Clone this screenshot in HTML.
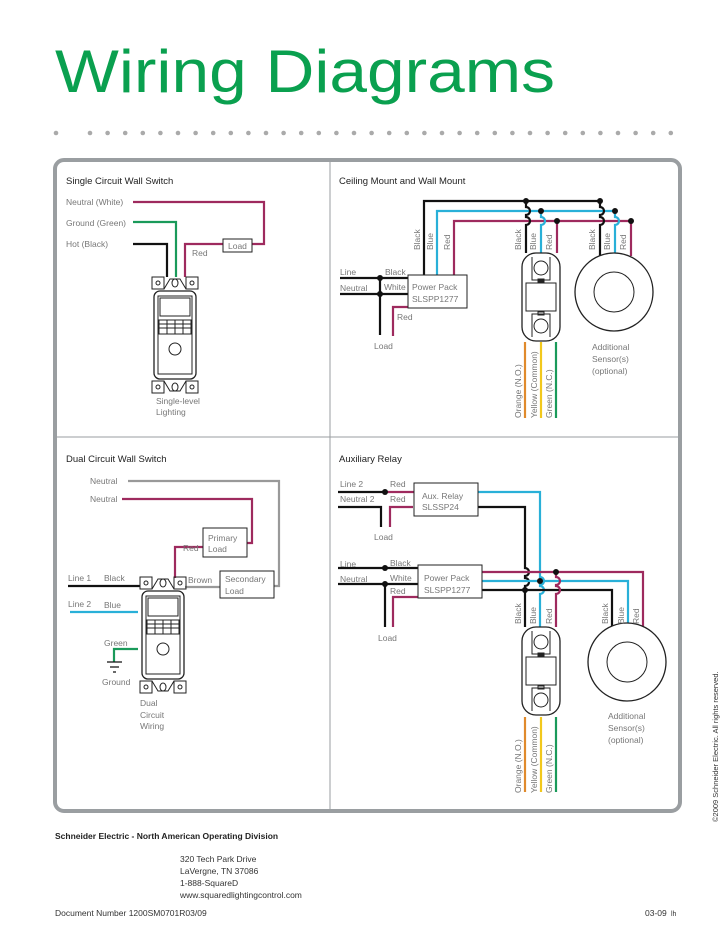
<!DOCTYPE html>
<html><head><meta charset="utf-8"><style>
html,body{margin:0;padding:0;background:#fff}
svg{display:block}
text{font-family:"Liberation Sans",sans-serif;fill:#777;font-size:8.5px}
.h{fill:#222;font-size:9.5px}
</style></head><body>
<svg width="728" height="942" viewBox="0 0 728 942" xmlns="http://www.w3.org/2000/svg">
<defs>
<g id="sw" fill="none" stroke="#222" stroke-width="1">
 <rect x="0" y="0" width="12" height="12"/><circle cx="6" cy="6" r="2"/>
 <rect x="34" y="0" width="12" height="12"/><circle cx="40" cy="6" r="2"/>
 <path d="M12 12 L18 2 H28 L34 12"/><ellipse cx="23" cy="6" rx="3" ry="4"/>
 <rect x="2" y="14" width="42" height="88" rx="6" stroke-width="1.3"/>
 <rect x="6" y="19" width="34" height="78"/>
 <rect x="8" y="21" width="30" height="18"/>
 <rect x="7" y="43" width="32" height="14"/>
 <path d="M7 47H39M7 51H39M15 43V57M23 43V57M31 43V57"/>
 <circle cx="23" cy="72" r="6"/>
 <rect x="0" y="104" width="12" height="12"/><circle cx="6" cy="110" r="2"/>
 <rect x="34" y="104" width="12" height="12"/><circle cx="40" cy="110" r="2"/>
 <path d="M12 104 L18 114 H28 L34 104"/><ellipse cx="23" cy="110" rx="3" ry="4"/>
</g>
<g id="dev" fill="none" stroke="#222" stroke-width="1">
 <rect x="0" y="0" width="38" height="88" rx="14" stroke-width="1.3"/>
 <circle cx="19" cy="15" r="7"/><circle cx="19" cy="73" r="7"/>
 <path d="M10 4V27H28V4M10 84V61H28V84"/>
 <rect x="4" y="30" width="30" height="28"/>
 <rect x="16" y="26" width="6" height="3" fill="#222"/><rect x="16" y="59" width="6" height="3"/>
</g>
</defs>

<text x="55" y="92" textLength="500" lengthAdjust="spacingAndGlyphs" style="fill:#0aa04f;font-size:60px">Wiring Diagrams</text>
<g fill="#aaa">
<circle cx="56" cy="133" r="2.3"/>
<circle cx="90" cy="133" r="2.3"/><circle cx="107.6" cy="133" r="2.3"/><circle cx="125.2" cy="133" r="2.3"/><circle cx="142.8" cy="133" r="2.3"/><circle cx="160.4" cy="133" r="2.3"/><circle cx="178" cy="133" r="2.3"/><circle cx="195.6" cy="133" r="2.3"/><circle cx="213.2" cy="133" r="2.3"/><circle cx="230.8" cy="133" r="2.3"/><circle cx="248.4" cy="133" r="2.3"/><circle cx="266" cy="133" r="2.3"/><circle cx="283.6" cy="133" r="2.3"/><circle cx="301.2" cy="133" r="2.3"/><circle cx="318.8" cy="133" r="2.3"/><circle cx="336.4" cy="133" r="2.3"/><circle cx="354" cy="133" r="2.3"/><circle cx="371.6" cy="133" r="2.3"/><circle cx="389.2" cy="133" r="2.3"/><circle cx="406.8" cy="133" r="2.3"/><circle cx="424.4" cy="133" r="2.3"/><circle cx="442" cy="133" r="2.3"/><circle cx="459.6" cy="133" r="2.3"/><circle cx="477.2" cy="133" r="2.3"/><circle cx="494.8" cy="133" r="2.3"/><circle cx="512.4" cy="133" r="2.3"/><circle cx="530" cy="133" r="2.3"/><circle cx="547.6" cy="133" r="2.3"/><circle cx="565.2" cy="133" r="2.3"/><circle cx="582.8" cy="133" r="2.3"/><circle cx="600.4" cy="133" r="2.3"/><circle cx="618" cy="133" r="2.3"/><circle cx="635.6" cy="133" r="2.3"/><circle cx="653.2" cy="133" r="2.3"/><circle cx="670.8" cy="133" r="2.3"/>
</g>

<rect x="55" y="160" width="625" height="651" rx="9" fill="none" stroke="#9a9ea1" stroke-width="4"/>
<line x1="330" y1="160" x2="330" y2="811" stroke="#9a9ea1" stroke-width="1"/>
<line x1="55" y1="437" x2="680" y2="437" stroke="#9a9ea1" stroke-width="1"/>

<g fill="none" stroke-width="2.2">
<path d="M133 202H264V244H252" stroke="#9e2a5e"/>
<path d="M133 222H176V277" stroke="#1a9a5a"/>
<path d="M133 244H167V277" stroke="#111"/>
<path d="M185 277V244H223" stroke="#9e2a5e"/>
<path d="M424 275V201H600" stroke="#111"/>
<path d="M437 275V211H615" stroke="#29b0d8"/>
<path d="M454 275V221H631" stroke="#9e2a5e"/>
<path d="M526 201V207a4 4 0 0 1 0 8V217a4 4 0 0 1 0 8V253" stroke="#111"/>
<path d="M541 211V217a4 4 0 0 1 0 8V253" stroke="#29b0d8"/>
<path d="M557 221V253" stroke="#9e2a5e"/>
<path d="M600 201V207a4 4 0 0 1 0 8V217a4 4 0 0 1 0 8V256" stroke="#111"/>
<path d="M615 211V217a4 4 0 0 1 0 8V254" stroke="#29b0d8"/>
<path d="M631 221V256" stroke="#9e2a5e"/>
<path d="M340 278H408M340 294H408M380 278V335" stroke="#111"/>
<path d="M408 307H393V336" stroke="#9e2a5e"/>
<path d="M525 342V418" stroke="#e08a2c"/><path d="M541 342V418" stroke="#f2c81c"/><path d="M556 342V418" stroke="#1a9a5a"/>
<path d="M128 481H279V586H274" stroke="#999"/>
<path d="M122 499H252V543H247" stroke="#9e2a5e"/>
<path d="M203 547H175V578" stroke="#9e2a5e"/>
<path d="M185 587H220" stroke="#999"/>
<path d="M68 586H140" stroke="#111"/>
<path d="M70 612H138" stroke="#29b0d8"/>
<path d="M138 649H114V662" stroke="#1a9a5a"/>
<path d="M338 492H385M338 507H381V527" stroke="#111"/>
<path d="M385 492H414M413 507H390V527" stroke="#9e2a5e"/>
<path d="M478 492H540V577a4 4 0 0 1 0 8V586a4 4 0 0 1 0 8V627" stroke="#29b0d8"/>
<path d="M478 507H525V568a4 4 0 0 1 0 8V578a4 4 0 0 1 0 8V627" stroke="#111"/>
<path d="M338 568H418M338 584H418M385 584V627" stroke="#111"/>
<path d="M418 597H393V627" stroke="#9e2a5e"/>
<path d="M482 572H643V627" stroke="#9e2a5e"/>
<path d="M482 581H628V624" stroke="#29b0d8"/>
<path d="M482 590H612V627" stroke="#111"/>
<path d="M556 572V577a4 4 0 0 1 0 8V586a4 4 0 0 1 0 8V627" stroke="#9e2a5e"/>
<path d="M525 717V792" stroke="#e08a2c"/><path d="M541 717V792" stroke="#f2c81c"/><path d="M556 717V792" stroke="#1a9a5a"/>
</g>
<g stroke="#111" stroke-width="1.2"><path d="M107 662H122M110 667H119M113 672H116"/></g>
<g fill="#111">
<circle cx="526" cy="201" r="3"/><circle cx="600" cy="201" r="3"/><circle cx="541" cy="211" r="3"/><circle cx="615" cy="211" r="3"/><circle cx="557" cy="221" r="3"/><circle cx="631" cy="221" r="3"/>
<circle cx="380" cy="278" r="3"/><circle cx="380" cy="294" r="3"/>
<circle cx="385" cy="492" r="3"/><circle cx="385" cy="568" r="3"/><circle cx="385" cy="584" r="3"/>
<circle cx="556" cy="572" r="3"/><circle cx="540" cy="581" r="3"/><circle cx="525" cy="590" r="3"/>
</g>

<g fill="#fff" stroke="#222" stroke-width="1">
<rect x="223" y="239" width="29" height="13"/>
<rect x="408" y="275" width="59" height="33"/>
<rect x="203" y="528" width="44" height="29"/>
<rect x="220" y="571" width="54" height="27"/>
<rect x="414" y="483" width="64" height="33"/>
<rect x="418" y="565" width="64" height="33"/>
<circle cx="614" cy="292" r="39" stroke-width="1.3"/><circle cx="614" cy="292" r="20"/>
<circle cx="627" cy="662" r="39" stroke-width="1.3"/><circle cx="627" cy="662" r="20"/>
</g>
<use href="#sw" x="152" y="277"/>
<use href="#sw" x="140" y="577"/>
<use href="#dev" x="522" y="253"/>
<use href="#dev" x="522" y="627"/>

<text class="h" x="66" y="184">Single Circuit Wall Switch</text>
<text class="h" x="339" y="184">Ceiling Mount and Wall Mount</text>
<text class="h" x="66" y="462">Dual Circuit Wall Switch</text>
<text class="h" x="339" y="462">Auxiliary Relay</text>

<text x="66" y="205">Neutral (White)</text>
<text x="66" y="226">Ground (Green)</text>
<text x="66" y="247">Hot (Black)</text>
<text x="192" y="256">Red</text>
<text x="228" y="249">Load</text>
<text x="156" y="404">Single-level</text>
<text x="156" y="415">Lighting</text>

<text x="340" y="275">Line</text><text x="340" y="291">Neutral</text>
<text x="385" y="275">Black</text><text x="384" y="290">White</text>
<text x="412" y="290">Power Pack</text><text x="412" y="302">SLSPP1277</text>
<text x="397" y="320">Red</text><text x="374" y="349">Load</text>
<text x="592" y="350">Additional</text><text x="592" y="362">Sensor(s)</text><text x="592" y="374">(optional)</text>
<g>
<text transform="translate(420,250) rotate(-90)">Black</text>
<text transform="translate(433,250) rotate(-90)">Blue</text>
<text transform="translate(450,250) rotate(-90)">Red</text>
<text transform="translate(521,250) rotate(-90)">Black</text>
<text transform="translate(536,250) rotate(-90)">Blue</text>
<text transform="translate(552,250) rotate(-90)">Red</text>
<text transform="translate(595,250) rotate(-90)">Black</text>
<text transform="translate(610,250) rotate(-90)">Blue</text>
<text transform="translate(626,250) rotate(-90)">Red</text>
<text transform="translate(521,418) rotate(-90)">Orange (N.O.)</text>
<text transform="translate(537,418) rotate(-90)">Yellow (Common)</text>
<text transform="translate(552,418) rotate(-90)">Green (N.C.)</text>
<text transform="translate(521,624) rotate(-90)">Black</text>
<text transform="translate(536,624) rotate(-90)">Blue</text>
<text transform="translate(552,624) rotate(-90)">Red</text>
<text transform="translate(608,624) rotate(-90)">Black</text>
<text transform="translate(624,624) rotate(-90)">Blue</text>
<text transform="translate(639,624) rotate(-90)">Red</text>
<text transform="translate(521,793) rotate(-90)">Orange (N.O.)</text>
<text transform="translate(537,793) rotate(-90)">Yellow (Common)</text>
<text transform="translate(552,793) rotate(-90)">Green (N.C.)</text>
</g>

<text x="90" y="484">Neutral</text><text x="90" y="502">Neutral</text>
<text x="208" y="541">Primary</text><text x="208" y="552">Load</text>
<text x="183" y="551">Red</text>
<text x="225" y="582">Secondary</text><text x="225" y="594">Load</text>
<text x="188" y="583">Brown</text>
<text x="68" y="581">Line 1</text><text x="104" y="581">Black</text>
<text x="68" y="607">Line 2</text><text x="104" y="608">Blue</text>
<text x="104" y="646">Green</text><text x="102" y="685">Ground</text>
<text x="140" y="706">Dual</text><text x="140" y="718">Circuit</text><text x="140" y="729">Wiring</text>

<text x="340" y="487">Line 2</text><text x="340" y="502">Neutral 2</text>
<text x="390" y="487">Red</text><text x="390" y="502">Red</text>
<text x="422" y="499">Aux. Relay</text><text x="422" y="510">SLSSP24</text>
<text x="374" y="540">Load</text>
<text x="340" y="567">Line</text><text x="340" y="582">Neutral</text>
<text x="390" y="566">Black</text><text x="390" y="581">White</text><text x="390" y="594">Red</text>
<text x="424" y="581">Power Pack</text><text x="424" y="593">SLSPP1277</text>
<text x="378" y="641">Load</text>
<text x="608" y="719">Additional</text><text x="608" y="731">Sensor(s)</text><text x="608" y="743">(optional)</text>

<text x="55" y="839" style="fill:#222;font-size:8.5px;font-weight:bold">Schneider Electric - North American Operating Division</text>
<text x="180" y="862" style="fill:#333">320 Tech Park Drive</text>
<text x="180" y="874" style="fill:#333">LaVergne, TN 37086</text>
<text x="180" y="886" style="fill:#333">1-888-SquareD</text>
<text x="180" y="898" style="fill:#333">www.squaredlightingcontrol.com</text>
<text x="55" y="916" style="fill:#333">Document Number 1200SM0701R03/09</text>
<text x="645" y="916" style="fill:#333">03-09</text><text x="671" y="916" style="fill:#333;font-size:7px">lh</text>
<text transform="translate(718,822) rotate(-90)" style="fill:#333;font-size:7.5px">©2009 Schneider Electric. All rights reserved.</text>
</svg>
</body></html>
